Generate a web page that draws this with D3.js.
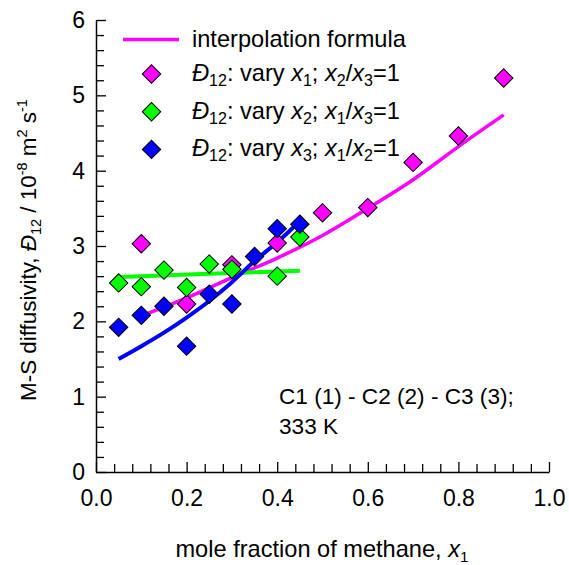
<!DOCTYPE html>
<html><head><meta charset="utf-8">
<script src="https://cdn.jsdelivr.net/npm/d3@7"></script>
<style>
html,body{margin:0;padding:0;background:#fff;}
svg text{font-family:"Liberation Sans",Arial,sans-serif;fill:#000;}
</style></head>
<body><svg id="c" width="569" height="565"></svg>
<script>
// ---- data ----
const xVary1 = [0.1,0.2,0.3,0.4,0.5,0.6,0.7,0.8,0.9];
const dVary1 = [3.03,2.23,2.75,3.04,3.44,3.51,4.11,4.46,5.23];
const xVary2 = [0.05,0.1,0.15,0.2,0.25,0.3,0.4,0.45];
const dVary2 = [2.51,2.46,2.68,2.45,2.76,2.69,2.60,3.12];
const xVary3 = [0.05,0.1,0.15,0.2,0.25,0.3,0.35,0.4,0.45];
const dVary3 = [1.92,2.08,2.20,1.67,2.36,2.23,2.86,3.23,3.29];
const xFit1 = [0.1,0.2,0.3,0.4,0.5,0.6,0.7,0.8,0.9];
const dFit1 = [2.07,2.31,2.58,2.84,3.14,3.50,3.88,4.32,4.74];
const xFit2 = [0.05,0.15,0.25,0.35,0.45];
const dFit2 = [2.59,2.61,2.63,2.65,2.67];
const xFit3 = [0.05,0.1,0.15,0.2,0.25,0.3,0.35,0.4,0.45];
const dFit3 = [1.50,1.67,1.85,2.05,2.27,2.52,2.80,3.05,3.33];
const xTicks = [0,0.2,0.4,0.6,0.8,1.0];
const xTickLabels = ["0.0","0.2","0.4","0.6","0.8","1.0"];
const yTicks = [0,1,2,3,4,5,6];
const yTickLabels = ["0","1","2","3","4","5","6"];

const svg = d3.select("#c");
const x = d3.scaleLinear([0,1],[96,549]);
const y = d3.scaleLinear([0,6],[472,20]);
const FS = 23;
const FL = 23.6;

// axes
const xMinor = d3.range(0,1.0001,0.04).filter(v=>Math.abs(v/0.2-Math.round(v/0.2))>1e-6);
const yMinor = d3.range(0,6.0001,0.2).filter(v=>Math.abs(v-Math.round(v))>1e-6);

const gx = svg.append("g").attr("transform","translate(0,472)");
gx.call(d3.axisBottom(x).tickValues(xMinor).tickSize(-8).tickSizeOuter(0).tickFormat(""));
gx.call(g=>g.select(".domain").remove());
const gx2 = svg.append("g").attr("transform","translate(0,472)");
gx2.call(d3.axisBottom(x).tickValues(xTicks).tickSize(-10).tickSizeOuter(0).tickPadding(18)
  .tickFormat((d,i)=>xTickLabels[i]));
const gy = svg.append("g").attr("transform","translate(96,0)");
gy.call(d3.axisLeft(y).tickValues(yMinor).tickSize(-8).tickSizeOuter(0).tickFormat(""));
gy.call(g=>g.select(".domain").remove());
const gy2 = svg.append("g").attr("transform","translate(96,0)");
gy2.call(d3.axisLeft(y).tickValues(yTicks).tickSize(-10).tickSizeOuter(0).tickPadding(11)
  .tickFormat((d,i)=>yTickLabels[i]));
svg.selectAll(".tick line").attr("stroke","#000").attr("stroke-width",1.3);
svg.selectAll(".domain").attr("stroke","#000").attr("stroke-width",1.5);
svg.selectAll(".tick text").attr("font-size",FS).attr("font-family","Liberation Sans, Arial, sans-serif");

// lines
const line = d3.line().x(d=>x(d[0])).y(d=>y(d[1])).curve(d3.curveMonotoneX);
const zip = (a,b)=>a.map((v,i)=>[v,b[i]]);
svg.append("path").attr("d",line(zip(xFit1,dFit1))).attr("fill","none").attr("stroke","#ff00ff").attr("stroke-width",3.5);
svg.append("path").attr("d",line(zip(xFit2,dFit2))).attr("fill","none").attr("stroke","#00ff00").attr("stroke-width",4);
svg.append("path").attr("d",line(zip(xFit3,dFit3))).attr("fill","none").attr("stroke","#0000ff").attr("stroke-width",4);

// markers
const diamond = d3.symbol(d3.symbolSquare, 170)();
function markers(xs, ds, col){
  svg.append("g").selectAll("path").data(zip(xs,ds)).join("path")
    .attr("d",diamond)
    .attr("transform",d=>`translate(${x(d[0])},${y(d[1])}) rotate(45)`)
    .attr("fill",col).attr("stroke","#000").attr("stroke-width",1);
}
markers(xVary1,dVary1,"#ff00ff");
markers(xVary2,dVary2,"#00ff00");
markers(xVary3,dVary3,"#0000ff");

// legend
const lg = svg.append("g");
lg.append("line").attr("x1",123).attr("x2",179).attr("y1",39.5).attr("y2",39.5)
  .attr("stroke","#ff00ff").attr("stroke-width",3.5);
lg.append("text").attr("x",192).attr("y",47).attr("font-size",FL).text("interpolation formula");
const legItems = [
  {col:"#ff00ff", a:"1", b:"2", c:"3"},
  {col:"#00ff00", a:"2", b:"1", c:"3"},
  {col:"#0000ff", a:"3", b:"1", c:"2"}
];
legItems.forEach((it,i)=>{
  const cy = 74 + i*37.7;
  lg.append("path").attr("d",diamond).attr("transform",`translate(151.5,${cy}) rotate(45)`)
    .attr("fill",it.col).attr("stroke","#000").attr("stroke-width",1);
  const t = lg.append("text").attr("x",192).attr("y",cy+7).attr("font-size",FL);
  const sub = (s)=>{ t.append("tspan").attr("font-size",FL*0.68).attr("dy",5).text(s); };
  const norm = (s)=>{ t.append("tspan").attr("dy",-5).text(s); };
  t.append("tspan").attr("font-style","italic").text("Đ");
  sub("12");
  norm(": vary ");
  t.append("tspan").attr("font-style","italic").text("x");
  sub(it.a);
  norm("; ");
  t.append("tspan").attr("font-style","italic").text("x");
  sub(it.b);
  norm("/");
  t.append("tspan").attr("font-style","italic").text("x");
  sub(it.c);
  norm("=1");
});

// annotation
svg.append("text").attr("x",279).attr("y",404).attr("font-size",22.6).text("C1 (1) - C2 (2) - C3 (3);");
svg.append("text").attr("x",279).attr("y",434).attr("font-size",22.6).text("333 K");

// axis titles
const xt = svg.append("text").attr("x",322).attr("y",557).attr("text-anchor","middle").attr("font-size",FL);
xt.append("tspan").text("mole fraction of methane, ");
xt.append("tspan").attr("font-style","italic").text("x");
xt.append("tspan").attr("font-size",FL*0.65).attr("dy",5).text("1");

const YF = 22.4;
const yt = svg.append("text").attr("transform","translate(36,250) rotate(-90)").attr("text-anchor","middle").attr("font-size",YF);
yt.append("tspan").text("M-S diffusivity, ");
yt.append("tspan").attr("font-style","italic").text("Đ");
yt.append("tspan").attr("font-size",YF*0.65).attr("dy",5).text("12");
yt.append("tspan").attr("dy",-5).text(" / 10");
yt.append("tspan").attr("font-size",YF*0.65).attr("dy",-9).text("-8");
yt.append("tspan").attr("dy",9).text(" m");
yt.append("tspan").attr("font-size",YF*0.65).attr("dy",-9).text("2");
yt.append("tspan").attr("dy",9).text(" s");
yt.append("tspan").attr("font-size",YF*0.65).attr("dy",-9).text("-1");
</script></body></html>
